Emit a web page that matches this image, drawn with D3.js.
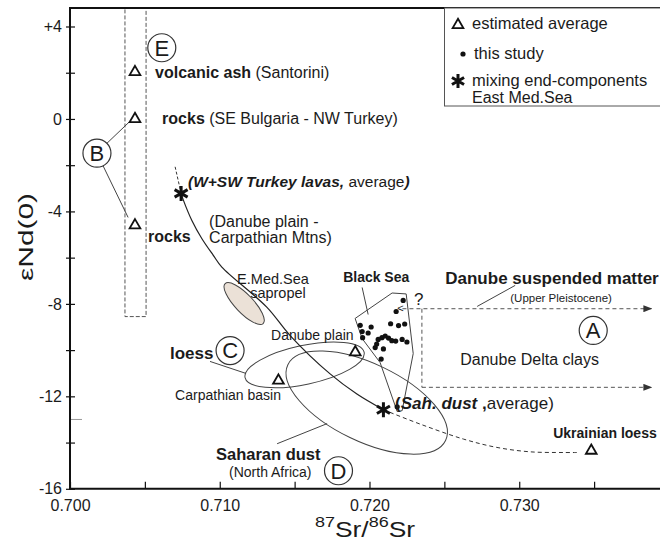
<!DOCTYPE html>
<html lang="en">
<head>
<meta charset="UTF-8" />
<title>Sr-Nd isotopes</title>
<script src="https://cdnjs.cloudflare.com/ajax/libs/d3/7.8.5/d3.min.js"></script>
<style>
  body { margin: 0; background: #fff; }
  svg { display: block; font-family: "Liberation Sans", Arial, Helvetica, sans-serif; }
</style>
</head>
<body>
<div id="chart"></div>
<script>
// axis ticks
const srTicks = [0.700, 0.710, 0.720, 0.730];
const srMinorTicks = [0.705, 0.715, 0.725, 0.735];
const ndTicks = [4, 0, -4, -8, -12, -16];
const ndTickLabels = ["+4", "0", "-4", "-8", "-12", "-16"];
const ndMinorTicks = [2, -2, -6, -10, -14];

// Black Sea samples (this study)
const blackSeaSr = [0.72225, 0.72178, 0.71938, 0.72011, 0.72141, 0.72194, 0.72235, 0.71951,
  0.71991, 0.71954, 0.72058, 0.72048, 0.72038, 0.72083, 0.72105, 0.72127, 0.72149, 0.72175,
  0.72218, 0.72250, 0.72093, 0.72078, 0.72185];
const blackSeaNd = [-7.85, -8.33, -8.93, -9.00, -8.86, -8.94, -8.87, -9.20,
  -9.26, -9.46, -9.54, -9.74, -9.89, -9.46, -9.39, -9.48, -9.59, -9.61,
  -9.54, -9.65, -9.95, -10.39, -12.45];

// estimated averages (triangles)
const averageNames = ["volcanic ash", "rocks SE Bulgaria", "rocks Danube plain",
  "loess Carpathian basin", "loess Danube plain", "Ukrainian loess"];
const averageSr = [0.70434, 0.70434, 0.70434, 0.71392, 0.71905, 0.73481];
const averageNd = [2.03, 0.0, -4.60, -11.32, -10.09, -14.35];

// mixing end-components (asterisks)
const endMemberNames = ["W+SW Turkey lavas", "Saharan dust"];
const endMemberSr = [0.70742, 0.72093];
const endMemberNd = [-3.22, -12.58];

// mixing curve between the end-components
const mixSr = [0.70742, 0.70757, 0.70813, 0.70880, 0.70957, 0.71014, 0.71314, 0.71470, 0.71737, 0.71916, 0.72093];
const mixNd = [-3.22, -3.51, -4.38, -5.17, -5.90, -6.41, -8.14, -9.37, -11.03, -11.90, -12.58];
const mixUpperSr = [0.70702, 0.70742];
const mixUpperNd = [-2.07, -3.22];
const mixLowerSr = [0.72093, 0.72338, 0.72628, 0.72851, 0.73073, 0.73296, 0.73385];
const mixLowerNd = [-12.58, -13.20, -13.85, -14.21, -14.40, -14.43, -14.43];

// Black Sea field
const blackSeaFieldSr = [0.71904, 0.72151, 0.72245, 0.72292, 0.72218, 0.72185, 0.72071, 0.71951];
const blackSeaFieldNd = [-8.63, -7.53, -7.57, -10.15, -12.62, -12.66, -10.54, -9.50];

// fields drawn as ellipses: ends of the long axis, width as share of length
const ellipseNames = ["E.Med.Sea sapropel", "loess", "Saharan dust"];
const ellipseStartSr = [0.71036, 0.71169, 0.71455];
const ellipseStartNd = [-7.12, -11.19, -10.63];
const ellipseEndSr = [0.71290, 0.71964, 0.72508];
const ellipseEndNd = [-8.85, -10.09, -13.91];
const ellipseWidth = [0.33, 0.32, 0.443];

// field E (volcanic ash and rocks)
const fieldESr = [0.70367, 0.70508];
const fieldENd = [4.8, -8.55];

// Danube suspended matter / Danube Delta clays (A)
const danubeSr = [0.7222, 0.7235, 0.73889];
const danubeNd = [-8.21, -11.61];

const width = 660, height = 545;
const svg = d3.select("#chart").append("svg")
  .attr("width", width)
  .attr("height", height);
svg.append("rect").attr("width", width).attr("height", height).attr("fill", "#fff");

const x = d3.scaleLinear().domain([0.700, 0.7394]).range([70, 660]);
const y = d3.scaleLinear().domain([-16, 4.8]).range([488.8, 8]);
const ink = "#1b1b1b";

svg.append("defs").append("marker")
  .attr("id", "arrow")
  .attr("markerUnits", "userSpaceOnUse")
  .attr("markerWidth", 9).attr("markerHeight", 7)
  .attr("refX", 9).attr("refY", 3.5)
  .attr("orient", "auto")
  .append("path").attr("d", "M0,0L9,3.5L0,7Z").attr("fill", "#333");

// field E
svg.append("rect")
  .attr("x", x(fieldESr[0])).attr("y", y(fieldENd[0]))
  .attr("width", x(fieldESr[1]) - x(fieldESr[0]))
  .attr("height", y(fieldENd[1]) - y(fieldENd[0]))
  .attr("fill", "none").attr("stroke", "#555").attr("stroke-width", 1)
  .attr("stroke-dasharray", "4,2");

// ellipses
ellipseNames.forEach((name, i) => {
  const x1 = x(ellipseStartSr[i]), y1 = y(ellipseStartNd[i]);
  const x2 = x(ellipseEndSr[i]), y2 = y(ellipseEndNd[i]);
  const cx = (x1 + x2) / 2, cy = (y1 + y2) / 2;
  const rx = Math.hypot(x2 - x1, y2 - y1) / 2;
  const ang = Math.atan2(y2 - y1, x2 - x1) * 180 / Math.PI;
  svg.append("ellipse")
    .attr("cx", cx).attr("cy", cy)
    .attr("rx", rx).attr("ry", rx * ellipseWidth[i])
    .attr("transform", `rotate(${ang},${cx},${cy})`)
    .attr("fill", i === 0 ? "#ebe1d7" : "none")
    .attr("stroke", "#444").attr("stroke-width", 1);
});

// Black Sea field
svg.append("path")
  .datum(d3.zip(blackSeaFieldSr, blackSeaFieldNd))
  .attr("d", d3.line().x(d => x(d[0])).y(d => y(d[1])).curve(d3.curveLinearClosed))
  .attr("fill", "none").attr("stroke", "#444").attr("stroke-width", 1);

// Danube arrows
const dash = "4,3";
svg.append("line")
  .attr("x1", x(danubeSr[0])).attr("x2", x(danubeSr[2]))
  .attr("y1", y(danubeNd[0])).attr("y2", y(danubeNd[0]))
  .attr("stroke", "#555").attr("stroke-dasharray", dash).attr("marker-end", "url(#arrow)");
svg.append("line")
  .attr("x1", x(danubeSr[1])).attr("x2", x(danubeSr[1]))
  .attr("y1", y(danubeNd[0])).attr("y2", y(danubeNd[1]))
  .attr("stroke", "#555").attr("stroke-dasharray", dash);
svg.append("line")
  .attr("x1", x(danubeSr[1])).attr("x2", x(danubeSr[2]))
  .attr("y1", y(danubeNd[1])).attr("y2", y(danubeNd[1]))
  .attr("stroke", "#555").attr("stroke-dasharray", dash).attr("marker-end", "url(#arrow)");

// mixing curve
const curve = d3.line().x(d => x(d[0])).y(d => y(d[1])).curve(d3.curveCatmullRom);
svg.append("path").datum(d3.zip(mixSr, mixNd)).attr("d", curve)
  .attr("fill", "none").attr("stroke", "#222").attr("stroke-width", 1.2);
svg.append("path").datum(d3.zip(mixUpperSr, mixUpperNd)).attr("d", curve)
  .attr("fill", "none").attr("stroke", "#333").attr("stroke-width", 1).attr("stroke-dasharray", "3,2");
svg.append("path").datum(d3.zip(mixLowerSr, mixLowerNd)).attr("d", curve)
  .attr("fill", "none").attr("stroke", "#333").attr("stroke-width", 1).attr("stroke-dasharray", "4,3");

// leader lines
const leaders = [
  [[0.70247, -1.05], [0.70394, -0.14]],
  [[0.70221, -2.03], [0.70388, -4.26]],
  [[0.70935, -10.49], [0.71176, -11.01]],
  [[0.71383, -14.05], [0.71717, -13.18]],
  [[0.71951, -7.29], [0.71991, -8.46]],
  [[0.72719, -8.11], [0.72973, -7.20]]
];
leaders.forEach(([a, b]) => {
  svg.append("line")
    .attr("x1", x(a[0])).attr("y1", y(a[1]))
    .attr("x2", x(b[0])).attr("y2", y(b[1]))
    .attr("stroke", "#444").attr("stroke-width", 1);
});

// samples
svg.selectAll(".dot").data(d3.zip(blackSeaSr, blackSeaNd)).join("circle")
  .attr("class", "dot")
  .attr("cx", d => x(d[0])).attr("cy", d => y(d[1]))
  .attr("r", 2.6).attr("fill", "#111");

const tri = d3.symbol(d3.symbolTriangle, 50);
svg.selectAll(".avg").data(d3.zip(averageSr, averageNd)).join("path")
  .attr("class", "avg")
  .attr("transform", d => `translate(${x(d[0])},${y(d[1])})`)
  .attr("d", tri).attr("fill", "none").attr("stroke", "#111").attr("stroke-width", 1.8);

function asterisk(r) {
  const t = r / 2, u = t * Math.sqrt(3);
  return `M0,${-r}L0,${r}M${-u},${-t}L${u},${t}M${-u},${t}L${u},${-t}`;
}
svg.selectAll(".end").data(d3.zip(endMemberSr, endMemberNd)).join("path")
  .attr("class", "end")
  .attr("transform", d => `translate(${x(d[0])},${y(d[1])})`)
  .attr("d", asterisk(7.5)).attr("stroke", "#111").attr("stroke-width", 3);

// text labels
function label(sr, nd, size, parts) {
  const t = svg.append("text")
    .attr("x", x(sr)).attr("y", y(nd))
    .attr("font-size", size).attr("fill", ink);
  parts.forEach(([s, f]) => {
    t.append("tspan").text(s)
      .attr("font-weight", f && f.includes("b") ? "bold" : null)
      .attr("font-style", f && f.includes("i") ? "italic" : null);
  });
}
label(0.70568, 1.77, 16, [["volcanic ash", "b"], [" (Santorini)"]]);
label(0.70615, -0.23, 16, [["rocks", "b"], [" (SE Bulgaria - NW Turkey)"]]);
label(0.70788, -2.96, 15.5, [["(W+SW Turkey lavas,", "bi"], [" average"], [")", "bi"]]);
label(0.70521, -5.34, 16, [["rocks", "b"]]);
label(0.70929, -4.69, 16, [["(Danube plain -"]]);
label(0.70929, -5.38, 16, [["Carpathian Mtns)"]]);
label(0.71116, -7.14, 14.5, [["E.Med.Sea"]]);
label(0.71203, -7.76, 14.5, [["sapropel"]]);
label(0.71343, -9.58, 14, [["Danube plain"]]);
label(0.70668, -10.37, 17, [["loess", "b"]]);
label(0.70702, -12.18, 14, [["Carpathian basin"]]);
label(0.70975, -14.76, 16.5, [["Saharan dust", "b"]]);
label(0.71062, -15.48, 14, [["(North Africa)"]]);
label(0.71824, -7.07, 14, [["Black Sea", "b"]]);
label(0.72298, -8.03, 17, [["?"]]);
label(0.72185, -8.37, 11, [["<"]]);
label(0.72506, -7.16, 17, [["Danube suspended matter", "b"]]);
label(0.72940, -7.90, 11.5, [["(Upper Pleistocene)"]]);
label(0.72606, -10.63, 16, [["Danube Delta clays"]]);
label(0.72171, -12.53, 17, [["(", "b"], ["Sah. dust", "bi"], [" ,", "b"], ["average)"]]);
label(0.73227, -13.79, 14, [["Ukrainian loess", "b"]]);

// circled letters
const letters = [["E", 0.70613, 3.08], ["B", 0.70180, -1.48], ["C", 0.71069, -10.02],
  ["D", 0.71793, -15.22], ["A", 0.73494, -9.15]];
letters.forEach(([s, sr, nd]) => {
  const g = svg.append("g").attr("transform", `translate(${x(sr)},${y(nd)})`);
  g.append("circle").attr("r", 14).attr("fill", "#fff").attr("stroke", "#333").attr("stroke-width", 1.2);
  g.append("text").attr("text-anchor", "middle").attr("dy", "0.36em")
    .attr("font-size", 22).attr("fill", ink).text(s);
});

// axes
const xAxis = d3.axisBottom(x)
  .tickValues(srTicks.concat(srMinorTicks))
  .tickSize(-7).tickPadding(11)
  .tickFormat(d => srTicks.includes(d) ? d3.format(".3f")(d) : "");
const gx = svg.append("g").attr("transform", `translate(0,${y(-16)})`).call(xAxis);
gx.select(".domain").remove();

const yAxis = d3.axisLeft(y)
  .tickValues(ndTicks.concat(ndMinorTicks))
  .tickSize(4).tickPadding(4)
  .tickFormat(d => { const i = ndTicks.indexOf(d); return i >= 0 ? ndTickLabels[i] : ""; });
const gy = svg.append("g").attr("transform", `translate(${x(0.700)},0)`).call(yAxis);
gy.select(".domain").remove();
const gy2 = svg.append("g").attr("transform", `translate(${x(0.700)},0)`)
  .call(d3.axisLeft(y).tickValues(ndTicks.concat(ndMinorTicks)).tickSize(-5).tickFormat(""));
gy2.select(".domain").remove();

[gx, gy, gy2].forEach(g => {
  g.selectAll("line").attr("stroke", "#111").attr("stroke-width", 1.2);
  g.selectAll("text").attr("font-size", 16).attr("fill", ink)
    .attr("font-family", "'Liberation Sans', Arial, sans-serif");
});

svg.append("line")
  .attr("x1", x(0.700)).attr("x2", x(0.700) + 12)
  .attr("y1", y(-13)).attr("y2", y(-13))
  .attr("stroke", "#999").attr("stroke-width", 1);

svg.append("path")
  .attr("d", `M${x(0.7394)},${y(4.8)}H${x(0.700)}V${y(-16)}H${x(0.7394)}`)
  .attr("fill", "none").attr("stroke", "#111").attr("stroke-width", 2);

// axis titles
svg.append("text")
  .attr("transform", "translate(33,237) rotate(-90)")
  .attr("text-anchor", "middle")
  .attr("font-size", 20).attr("fill", ink)
  .attr("textLength", 88).attr("lengthAdjust", "spacingAndGlyphs")
  .text("εNd(0)");

const xt = svg.append("text")
  .attr("transform", "translate(365,537) scale(1.2,1)")
  .attr("text-anchor", "middle")
  .attr("font-size", 22).attr("fill", ink);
xt.append("tspan").attr("font-size", 15).attr("dy", -10).text("87");
xt.append("tspan").attr("dy", 10).text("Sr/");
xt.append("tspan").attr("font-size", 15).attr("dy", -10).text("86");
xt.append("tspan").attr("dy", 10).text("Sr");

// legend
const lg = svg.append("g");
lg.append("rect").attr("x", 444.5).attr("y", 8).attr("width", 240).attr("height", 98)
  .attr("fill", "#fff").attr("stroke", "#555").attr("stroke-width", 1);
lg.append("path").attr("transform", "translate(458,25)").attr("d", tri)
  .attr("fill", "none").attr("stroke", "#111").attr("stroke-width", 1.8);
lg.append("circle").attr("cx", 463).attr("cy", 54).attr("r", 2.6).attr("fill", "#111");
lg.append("path").attr("transform", "translate(458,81)").attr("d", asterisk(7))
  .attr("stroke", "#111").attr("stroke-width", 3);
[["estimated average", 472, 29, 16.5], ["this study", 474, 59, 16.5],
 ["mixing end-components", 472, 85.5, 16.5], ["East Med.Sea", 472, 102.5, 16]].forEach(([s, tx, ty, fs]) => {
  lg.append("text").attr("x", tx).attr("y", ty).attr("font-size", fs).attr("fill", ink).text(s);
});
</script>
</body>
</html>
